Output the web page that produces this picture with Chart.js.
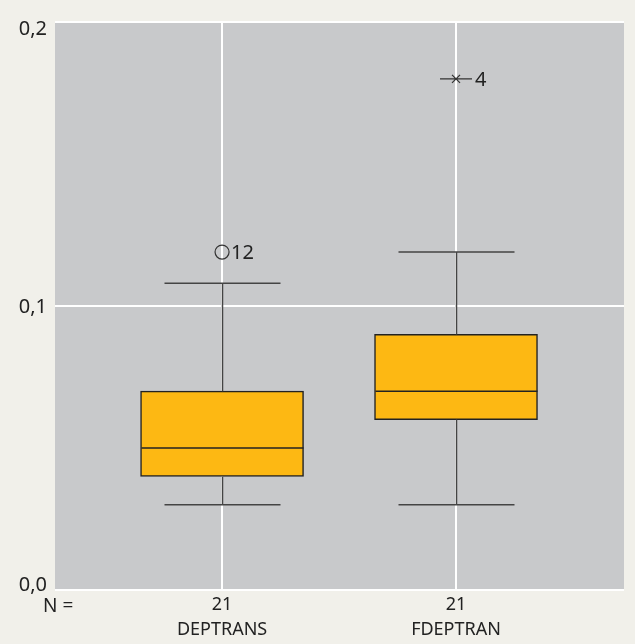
<!DOCTYPE html>
<html>
<head>
<meta charset="utf-8">
<script src="https://cdn.jsdelivr.net/npm/chart.js@4"></script>
<style>
html,body{margin:0;padding:0;background:#f1f0ea}
#wrap{width:635px;height:644px}
</style>
</head>
<body>
<div id="wrap"><canvas id="box"></canvas></div>
<script>
// values
let categories=["DEPTRANS","FDEPTRAN"]
let counts=[21,21]
let mins=[0.03,0.03]
let q1s=[0.04,0.06]
let medians=[0.05,0.07]
let q3s=[0.07,0.09]
let maxs=[0.108,0.119]
let outlierCat=[1,2]
let outlierValue=[0.119,0.18]
let outlierLabel=["12","4"]
let outlierKind=["circle","cross"]
let yTicks=[0,0.1,0.2]

let font="'Noto Sans', sans-serif"

let boxPlugin={
id:"boxPlugin",
beforeDraw(chart){
let a=chart.chartArea
let c=chart.ctx
c.save()
c.fillStyle="#c8c9cb"
c.fillRect(a.left,a.top,a.right-a.left,a.bottom-a.top)
c.restore()
},
afterDatasetsDraw(chart){
let c=chart.ctx
let x=chart.scales.x
let y=chart.scales.y
c.save()
c.strokeStyle="#444"
c.lineWidth=1.5
categories.forEach((cat,i)=>{
let px=Math.round(x.getPixelForValue(i+1))+0.5
// whiskers
c.beginPath()
c.moveTo(px,y.getPixelForValue(q3s[i]))
c.lineTo(px,y.getPixelForValue(maxs[i]))
c.moveTo(px,y.getPixelForValue(q1s[i]))
c.lineTo(px,y.getPixelForValue(mins[i]))
c.stroke()
c.beginPath()
c.moveTo(px-58,y.getPixelForValue(maxs[i]))
c.lineTo(px+58,y.getPixelForValue(maxs[i]))
c.moveTo(px-58,y.getPixelForValue(mins[i]))
c.lineTo(px+58,y.getPixelForValue(mins[i]))
c.stroke()
// median
c.strokeStyle="#222"
c.beginPath()
c.moveTo(px-81,y.getPixelForValue(medians[i]))
c.lineTo(px+81,y.getPixelForValue(medians[i]))
c.stroke()
c.strokeStyle="#444"
})
// outliers
c.fillStyle="#222"
c.font="20px "+font
c.textBaseline="middle"
c.textAlign="left"
outlierValue.forEach((v,i)=>{
let px=x.getPixelForValue(outlierCat[i])
let py=y.getPixelForValue(v)
c.strokeStyle="#333"
c.lineWidth=1.2
if(outlierKind[i]=="circle"){
c.beginPath()
c.arc(px,py,7,0,Math.PI*2)
c.stroke()
c.fillText(outlierLabel[i],px+9,py+1)
}else{
c.beginPath()
c.moveTo(px-16,py)
c.lineTo(px+16,py)
c.moveTo(px-4,py-4)
c.lineTo(px+4,py+4)
c.moveTo(px+4,py-4)
c.lineTo(px-4,py+4)
c.stroke()
c.fillText(outlierLabel[i],px+19,py+1)
}
})
// y tick labels
c.textAlign="right"
yTicks.forEach(t=>{
let py=y.getPixelForValue(t)
if(t==yTicks[0]) py-=6
if(t==yTicks[yTicks.length-1]) py+=6
c.fillText(String(t.toFixed(1)).replace(".",","),47,py+1)
})
c.textAlign="left"
c.font="19px "+font
c.fillText("N =",43,607)
c.restore()
}
}

new Chart(
document.getElementById("box"),
{
type:"bar",
data:{
datasets:[{
data:categories.map((c,i)=>({x:i+1,y:[q1s[i],q3s[i]]})),
backgroundColor:"#fdb813",
borderColor:"#222",
borderWidth:1.5,
borderSkipped:false,
barThickness:163
}]
},
options:{
responsive:true,
maintainAspectRatio:false,
animation:false,
layout:{padding:{left:0,right:11,top:22,bottom:0}},
plugins:{legend:{display:false},tooltip:{enabled:false}},
scales:{
x:{
type:"linear",
offset:false,
min:0.286,
max:2.718,
afterBuildTicks(s){s.ticks=[{value:1},{value:2}]},
afterFit(s){s.height=54},
border:{display:false},
grid:{color:"#ffffff",lineWidth:2,drawTicks:false,offset:false},
ticks:{
color:"#222",
font:{family:"'Noto Sans', sans-serif",size:18,lineHeight:1.35},
padding:3,
maxRotation:0,
callback:(v)=>[String(counts[v-1]),categories[v-1]]
}
},
y:{
min:0,
max:0.2,
afterBuildTicks(s){s.ticks=yTicks.map(v=>({value:v}))},
afterFit(s){s.width=55},
border:{display:false},
grid:{color:"#ffffff",lineWidth:2,drawTicks:false},
ticks:{display:false}
}
}
},
plugins:[boxPlugin]
})
</script>
</body>
</html>
